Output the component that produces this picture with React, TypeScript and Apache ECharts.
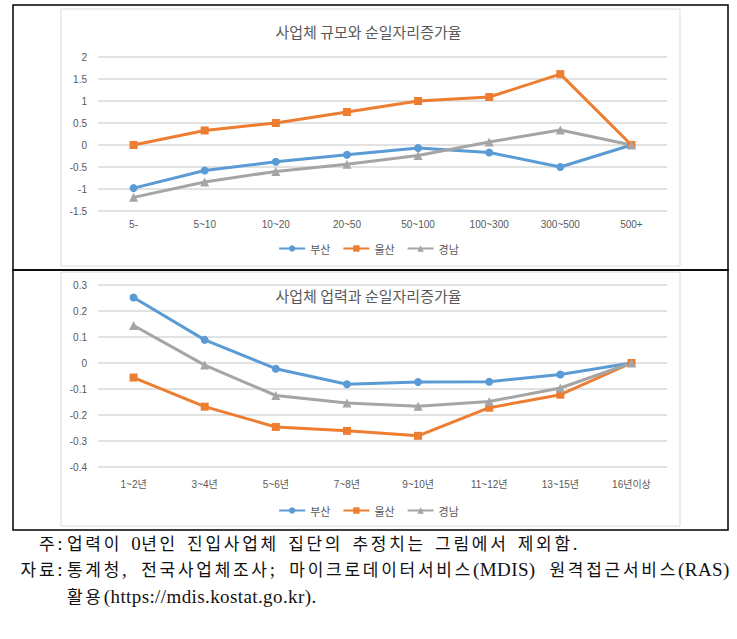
import React, { useEffect, useRef } from "react";
import * as echarts from "echarts";

const sizeCategories = ["5-", "5~10", "10~20", "20~50", "50~100", "100~300", "300~500", "500+"];
const busanSize = [-0.98, -0.58, -0.38, -0.22, -0.07, -0.17, -0.5, 0];
const ulsanSize = [0, 0.33, 0.5, 0.75, 1.0, 1.09, 1.61, 0];
const gyeongnamSize = [-1.19, -0.84, -0.6, -0.44, -0.24, 0.07, 0.34, 0];

const ageCategories = ["1~2년", "3~4년", "5~6년", "7~8년", "9~10년", "11~12년", "13~15년", "16년이상"];
const busanAge = [0.252, 0.089, -0.022, -0.082, -0.073, -0.072, -0.044, 0];
const ulsanAge = [-0.056, -0.168, -0.246, -0.261, -0.28, -0.172, -0.122, 0];
const gyeongnamAge = [0.144, -0.008, -0.125, -0.154, -0.166, -0.148, -0.096, 0];

const seriesNames = ["부산", "울산", "경남"];
const title1 = "사업체 규모와 순일자리증가율";
const title2 = "사업체 업력과 순일자리증가율";

const note1Head = "주:";
const note1Words = ["업력이", "0년인", "진입사업체", "집단의", "추정치는", "그림에서", "제외함."];
const note2Head = "자료:";
const note2Words = ["통계청,", "전국사업체조사;", "마이크로데이터서비스(MDIS)", "원격접근서비스(RAS)"];
const note3Words = ["활용(https://mdis.kostat.go.kr)."];

const COLORS = ["#5b9bd5", "#ed7d31", "#a5a5a5"];
const SYMBOLS = ["circle", "rect", "triangle"];
const TXT = "#595959";
const SANS = "'Liberation Sans', 'Noto Sans CJK KR', sans-serif";
const KSANS = "'Noto Sans CJK KR', 'Liberation Sans', sans-serif";

const K_FONT_FAMILY = "'Noto Sans CJK KR', sans-serif";
const K_SIZE = 17;
const L_FONT_FAMILY = "'Liberation Serif', serif";
const L_SIZE = 19;
const L_SPACING = 0.4;

const fmt = (v: number) => {
  const r = Math.round(v * 10) / 10;
  return r === 0 ? "0" : String(r);
};

const HANGUL = /[\u1100-\u11ff\u3130-\u318f\uac00-\ud7af]/;

let ctx: CanvasRenderingContext2D | null = null;
const measure = (s: string, font: string) => {
  if (!ctx) ctx = document.createElement("canvas").getContext("2d");
  if (!ctx) return s.length * 10;
  ctx.font = font;
  return ctx.measureText(s).width;
};
const K_FONT = `${K_SIZE}px ${K_FONT_FAMILY}`;
const L_FONT = `${L_SIZE}px ${L_FONT_FAMILY}`;

const splitRuns = (text: string) => {
  const runs: { s: string; k: boolean }[] = [];
  for (const ch of Array.from(text)) {
    const k = HANGUL.test(ch);
    const last = runs[runs.length - 1];
    if (last && last.k === k) last.s += ch;
    else runs.push({ s: ch, k });
  }
  return runs;
};

// Solve the Hangul tracking so that line 1 (words + half-em gaps) spans its measured width
const fitTracking = (words: string[], target: number) => {
  let fixed = 0;
  let nH = 0;
  let hangulW = 0;
  words.forEach((w) =>
    splitRuns(w).forEach((r) => {
      if (r.k) {
        nH += Array.from(r.s).length;
        hangulW += measure(r.s, K_FONT);
      } else {
        fixed += measure(r.s, L_FONT) + Array.from(r.s).length * L_SPACING;
      }
    })
  );
  const adv = nH ? hangulW / nH : K_SIZE;
  const gaps = words.length - 1;
  const ls = (target - fixed - hangulW - (gaps * adv) / 2) / (nH + gaps / 2);
  return { ls, gap: (adv + ls) / 2 };
};

const Runs = ({ text, ls }: { text: string; ls: number }) => (
  <>
    {splitRuns(text).map((r, i) =>
      r.k ? (
        <span key={i} style={{ fontFamily: K_FONT_FAMILY, fontSize: K_SIZE, letterSpacing: `${ls}px` }}>
          {r.s}
        </span>
      ) : (
        <span key={i} style={{ fontFamily: L_FONT_FAMILY, fontSize: L_SIZE, letterSpacing: `${L_SPACING}px` }}>
          {r.s}
        </span>
      )
    )}
  </>
);

const NoteLine = ({
  head,
  words,
  cy,
  x1,
  justify,
  ls,
  gap,
}: {
  head?: string;
  words: string[];
  cy: number;
  x1: number;
  justify: boolean;
  ls: number;
  gap: number;
}) => (
  <>
    {head ? (
      <div
        style={{
          position: "fixed",
          left: 0,
          top: cy - 12,
          width: 63,
          height: 24,
          lineHeight: "24px",
          textAlign: "right",
          color: "#111",
          whiteSpace: "nowrap",
        }}
      >
        <Runs text={head} ls={ls} />
      </div>
    ) : null}
    <div
      style={{
        position: "fixed",
        left: 67,
        top: cy - 12,
        width: x1 - 67,
        height: 24,
        lineHeight: "24px",
        display: "flex",
        alignItems: "baseline",
        justifyContent: justify ? "space-between" : "flex-start",
        columnGap: justify ? 0 : gap,
        color: "#111",
        whiteSpace: "nowrap",
      }}
    >
      {words.map((w, i) => (
        <span key={i}>
          <Runs text={w} ls={ls} />
        </span>
      ))}
    </div>
  </>
);

export default function App() {
  const ref = useRef<HTMLDivElement>(null);
  const { ls, gap } = fitTracking(note1Words, 511);

  useEffect(() => {
    if (!ref.current) return;
    const chart = echarts.init(ref.current, undefined, { renderer: "svg" });

    const mkX = (idx: number, data: string[], margin: number) => ({
      type: "category",
      gridIndex: idx,
      data,
      boundaryGap: true,
      axisLine: { show: false },
      axisTick: { show: false },
      axisLabel: { color: TXT, fontSize: 10, fontFamily: SANS, margin },
    });
    const mkY = (idx: number, min: number, max: number, interval: number) => ({
      type: "value",
      gridIndex: idx,
      min,
      max,
      interval,
      axisLine: { show: false },
      axisTick: { show: false },
      axisLabel: { color: TXT, fontSize: 10, fontFamily: SANS, margin: 11, formatter: fmt },
      splitLine: { lineStyle: { color: "#d9d9d9", width: 1.5 } },
    });
    const mkSeries = (idx: number, datas: number[][]) =>
      datas.map((d, i) => ({
        name: seriesNames[i],
        type: "line",
        xAxisIndex: idx,
        yAxisIndex: idx,
        data: d,
        symbol: SYMBOLS[i],
        symbolSize: i === 2 ? 9 : 8,
        showSymbol: true,
        itemStyle: { color: COLORS[i] },
        lineStyle: { color: COLORS[i], width: 3 },
      }));
    const mkLegend = (top: number) => ({
      data: seriesNames,
      left: "center",
      top,
      itemWidth: 26,
      itemHeight: 8,
      itemGap: 12,
      textStyle: { color: TXT, fontSize: 11, fontFamily: KSANS },
    });

    chart.setOption({
      animation: false,
      backgroundColor: "#ffffff",
      title: [
        {
          text: title1,
          left: "center",
          top: 24,
          padding: 0,
          textStyle: { color: TXT, fontSize: 15, fontWeight: "normal", fontFamily: KSANS },
        },
        {
          text: title2,
          left: "center",
          top: 288,
          padding: 0,
          textStyle: { color: TXT, fontSize: 15, fontWeight: "normal", fontFamily: KSANS },
        },
      ],
      legend: [mkLegend(238), mkLegend(500)],
      grid: [
        { left: 98, right: 70, top: 57, height: 154 },
        { left: 98, right: 70, top: 285, height: 182 },
      ],
      xAxis: [mkX(0, sizeCategories, 8), mkX(1, ageCategories, 12)],
      yAxis: [mkY(0, -1.5, 2, 0.5), mkY(1, -0.4, 0.3, 0.1)],
      series: [
        ...mkSeries(0, [busanSize, ulsanSize, gyeongnamSize]),
        ...mkSeries(1, [busanAge, ulsanAge, gyeongnamAge]),
      ],
      graphic: [
        { type: "rect", shape: { x: 61, y: 9, width: 619, height: 257 }, style: { fill: "none", stroke: "#d9d9d9", lineWidth: 1 }, z: -1 },
        { type: "rect", shape: { x: 61, y: 272, width: 619, height: 254 }, style: { fill: "none", stroke: "#d9d9d9", lineWidth: 1 }, z: -1 },
        { type: "rect", shape: { x: 13, y: 5, width: 715, height: 265 }, style: { fill: "none", stroke: "#000000", lineWidth: 1.5 } },
        { type: "rect", shape: { x: 13, y: 270, width: 715, height: 260 }, style: { fill: "none", stroke: "#000000", lineWidth: 1.5 } },
      ],
    });
    return () => chart.dispose();
  }, []);
  return (
    <>
      <div
        ref={ref}
        style={{ position: "fixed", left: 0, top: 0, width: 737, height: 639, background: "#fff" }}
      />
      <NoteLine head={note1Head} words={note1Words} cy={543} x1={67 + 511} justify={false} ls={ls} gap={gap} />
      <NoteLine head={note2Head} words={note2Words} cy={569} x1={727 + ls} justify={true} ls={ls} gap={gap} />
      <NoteLine words={note3Words} cy={596} x1={420} justify={false} ls={ls} gap={gap} />
    </>
  );
}
